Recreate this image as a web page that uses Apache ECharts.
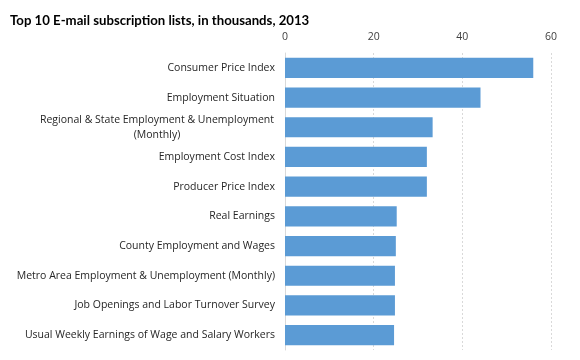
<!DOCTYPE html>
<html><head><meta charset="utf-8">
<script src="https://cdn.jsdelivr.net/npm/echarts@6/dist/echarts.min.js"></script>
<style>html,body{margin:0;padding:0;background:#fff}#c{width:580px;height:360px}</style>
</head><body><div id="c"></div>
<script>
const categories = [
  "Consumer Price Index",
  "Employment Situation",
  "Regional & State Employment & Unemployment\n(Monthly)",
  "Employment Cost Index",
  "Producer Price Index",
  "Real Earnings",
  "County Employment and Wages",
  "Metro Area Employment & Unemployment (Monthly)",
  "Job Openings and Labor Turnover Survey",
  "Usual Weekly Earnings of Wage and Salary Workers"
];
const subscribers = [56.0, 44.1, 33.3, 32.0, 32.0, 25.2, 25.0, 24.8, 24.8, 24.6];
const tickValues = [0, 20, 40, 60];

const labelFont = {fontFamily: 'Open Sans', fontSize: 10.5, color: '#262626'};
const chart = echarts.init(document.getElementById('c'), null, {renderer: 'canvas'});
chart.setOption({
  animation: false,
  title: {
    text: 'Top 10 E-mail subscription lists, in thousands, 2013',
    left: 5, top: 9,
    textStyle: {fontFamily: 'Lato', fontWeight: 'bold', fontSize: 13.2, color: '#000'}
  },
  grid: {left: 285, right: 29, top: 53, bottom: 10, containLabel: false},
  xAxis: {
    type: 'value', position: 'top',
    min: tickValues[0], max: tickValues[tickValues.length - 1], interval: 20,
    axisLine: {show: false}, axisTick: {show: false},
    axisLabel: {fontFamily: 'Open Sans', fontSize: 10.5, color: '#404040', margin: 10},
    splitLine: {show: true, lineStyle: {color: '#d9d9d9', type: [2, 2], width: 1}}
  },
  yAxis: {
    type: 'category', inverse: true, data: categories,
    axisLine: {show: true, lineStyle: {color: '#d9d9d9', width: 1}},
    axisTick: {show: false},
    axisLabel: Object.assign({}, labelFont, {
      margin: 10, align: 'right', lineHeight: 15,
      formatter: function (v) {
        if (v.indexOf('\n') < 0) return v;
        return v.split('\n').map(function (s) { return '{c|' + s + '}'; }).join('\n');
      },
      rich: {c: Object.assign({}, labelFont, {width: 236, align: 'center', lineHeight: 15})}
    })
  },
  series: [{
    type: 'bar', data: subscribers, barWidth: '68%',
    itemStyle: {color: '#5b9bd5'}
  }]
});
</script></body></html>
